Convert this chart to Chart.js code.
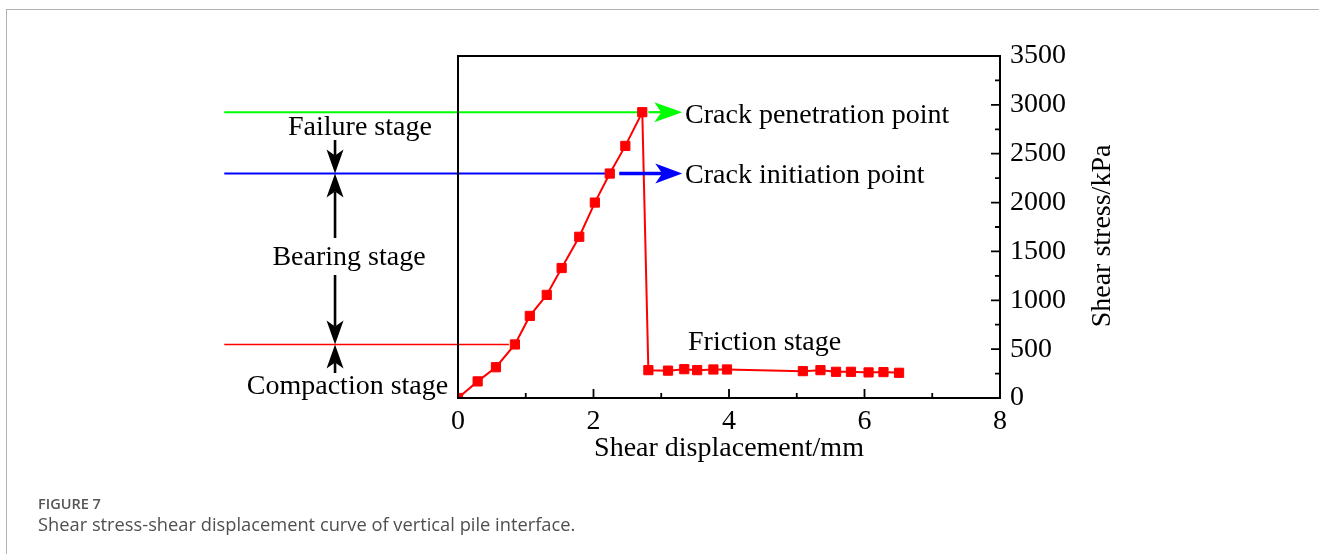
<!DOCTYPE html>
<html>
<head>
<meta charset="utf-8">
<script src="https://cdn.jsdelivr.net/npm/chart.js@4.4.0/dist/chart.umd.min.js"></script>
<style>
  html, body { margin: 0; padding: 0; background: #fff; }
  #wrap { position: relative; width: 1319px; height: 554px; overflow: hidden; }
  #frame { position: absolute; left: 6px; top: 9px; right: -4px; bottom: -4px;
           border-top: 1.5px solid #b2b2b2; border-left: 1.5px solid #b2b2b2; }
  #c { position: absolute; left: 0; top: 0; }
  .cap { position: absolute; left: 38px; font-family: "Open Sans", sans-serif; color: #555; line-height: 1; white-space: nowrap; }
  #figno { top: 497px; font-size: 14.5px; font-weight: 600; }
  #figtxt { top: 515px; font-size: 18.3px; color: #4f4f4f; }
</style>
</head>
<body>
<div id="wrap">
  <div id="frame"></div>
  <canvas id="c" width="1319" height="554"></canvas>
  <div class="cap" id="figno">FIGURE 7</div>
  <div class="cap" id="figtxt">Shear stress-shear displacement curve of vertical pile interface.</div>
</div>
<script>
// Shear test record of the vertical pile interface
const displacement = [0, 0.29, 0.56, 0.84, 1.06, 1.31, 1.53, 1.79, 2.02, 2.24, 2.47, 2.72,
                      2.81, 3.10, 3.34, 3.53, 3.77, 3.97, 5.09, 5.35, 5.58, 5.80, 6.06, 6.28, 6.51];
const shearStress  = [0, 170, 315, 548, 840, 1055, 1330, 1650, 2000, 2297, 2580, 2925,
                      285, 280, 295, 285, 292, 292, 275, 285, 268, 268, 262, 265, 258];
const xTicks = [0, 2, 4, 6, 8];
const yTicks = [0, 500, 1000, 1500, 2000, 2500, 3000, 3500];
const xTitle = 'Shear displacement/mm';
const yTitle = 'Shear stress/kPa';
const stageNames = ['Failure stage', 'Bearing stage', 'Compaction stage', 'Friction stage'];
const pointNames = ['Crack penetration point', 'Crack initiation point'];

// key points on the curve
const PEAK = 11;        // crack penetration
const INIT = 9;         // crack initiation
const COMPACT_END = 3;  // end of compaction

const SERIF = '"Liberation Serif", "Times New Roman", serif';
const RED = '#ff0000', GREEN = '#00ff00', BLUE = '#0000ff';

// annotation layout, in axis units
const guideStartX = -3.45;
const arrowTipX = 3.31;
const stageArrowX = -1.815;

function arrowHead(ctx, tx, ty, dx, dy, len, half, notch, color) {
  const px = -dy, py = dx;
  const bx = tx - dx * len, by = ty - dy * len;
  ctx.beginPath();
  ctx.moveTo(tx, ty);
  ctx.lineTo(bx + px * half, by + py * half);
  ctx.lineTo(tx - dx * (len - notch), ty - dy * (len - notch));
  ctx.lineTo(bx - px * half, by - py * half);
  ctx.closePath();
  ctx.fillStyle = color;
  ctx.fill();
}

function arrow(ctx, x0, y0, x1, y1, color, width, len, half, notch) {
  const L = Math.hypot(x1 - x0, y1 - y0);
  const dx = (x1 - x0) / L, dy = (y1 - y0) / L;
  ctx.beginPath();
  ctx.moveTo(x0, y0);
  ctx.lineTo(x1 - dx * (len - notch), y1 - dy * (len - notch));
  ctx.strokeStyle = color;
  ctx.lineWidth = width;
  ctx.stroke();
  arrowHead(ctx, x1, y1, dx, dy, len, half, notch, color);
}

function hline(ctx, x0, x1, y, color, width) {
  ctx.beginPath();
  ctx.moveTo(x0, y);
  ctx.lineTo(x1, y);
  ctx.strokeStyle = color;
  ctx.lineWidth = width;
  ctx.stroke();
}

const annotations = {
  id: 'stageAnnotations',
  beforeDatasetsDraw(chart) {
    const { ctx, scales: { x, y } } = chart;
    ctx.save();
    ctx.lineCap = 'butt';
    const gx = x.getPixelForValue(guideStartX);
    // guide lines from the stage column to the key points
    hline(ctx, gx, x.getPixelForValue(displacement[PEAK]), y.getPixelForValue(shearStress[PEAK]), GREEN, 2);
    hline(ctx, gx, x.getPixelForValue(displacement[INIT]), y.getPixelForValue(shearStress[INIT]), BLUE, 2);
    hline(ctx, gx, x.getPixelForValue(displacement[COMPACT_END]) - 6, y.getPixelForValue(shearStress[COMPACT_END]), RED, 1.6);
    ctx.restore();
  },
  afterDraw(chart) {
    const { ctx, chartArea: a, scales: { x, y } } = chart;
    ctx.save();

    // pointer arrows to the crack labels
    const tipPx = x.getPixelForValue(arrowTipX);
    const yPeak = y.getPixelForValue(shearStress[PEAK]);
    const yInit = y.getPixelForValue(shearStress[INIT]);
    const yComp = y.getPixelForValue(shearStress[COMPACT_END]);
    arrow(ctx, x.getPixelForValue(displacement[PEAK] + 0.09), yPeak, tipPx, yPeak, GREEN, 2.2, 28, 10, 7);
    arrow(ctx, x.getPixelForValue(displacement[INIT] + 0.14), yInit, tipPx, yInit, BLUE, 3.4, 27, 10, 7);

    // stage boundary arrows
    const sx = x.getPixelForValue(stageArrowX);
    arrow(ctx, sx, y.getPixelForValue(2640), sx, yInit, '#000', 2.6, 24, 8.5, 6);
    arrow(ctx, sx, y.getPixelForValue(1637), sx, yInit, '#000', 2.6, 24, 8.5, 6);
    arrow(ctx, sx, y.getPixelForValue(1259), sx, yComp, '#000', 2.6, 24, 8.5, 6);
    arrow(ctx, sx, y.getPixelForValue(256), sx, yComp, '#000', 2.6, 24, 8.5, 6);

    // plot frame
    ctx.strokeStyle = '#000';
    ctx.lineWidth = 2;
    ctx.strokeRect(a.left, a.top, a.right - a.left, a.bottom - a.top);

    // inward ticks: majors at labelled values, minors halfway
    ctx.lineWidth = 1.8;
    ctx.beginPath();
    for (let v = 0; v <= 8; v += 1) {
      const px = x.getPixelForValue(v);
      const len = v % 2 === 0 ? 9 : 5;
      ctx.moveTo(px, a.bottom);
      ctx.lineTo(px, a.bottom - len);
    }
    for (let v = 0; v <= 3500; v += 250) {
      const py = y.getPixelForValue(v);
      const len = v % 500 === 0 ? 9 : 5;
      ctx.moveTo(a.right, py);
      ctx.lineTo(a.right - len, py);
    }
    ctx.stroke();

    // text labels
    ctx.fillStyle = '#000';
    ctx.font = '28px ' + SERIF;
    ctx.textBaseline = 'alphabetic';
    ctx.textAlign = 'left';
    ctx.fillText(pointNames[0], x.getPixelForValue(3.351), y.getPixelForValue(2814));
    ctx.fillText(pointNames[1], x.getPixelForValue(3.351), y.getPixelForValue(2200));
    ctx.fillText(stageNames[3], x.getPixelForValue(3.395), y.getPixelForValue(491));
    ctx.textAlign = 'center';
    ctx.fillText(stageNames[0], x.getPixelForValue(-1.447), y.getPixelForValue(2692));
    ctx.fillText(stageNames[1], x.getPixelForValue(-1.609), y.getPixelForValue(1361));
    ctx.fillText(stageNames[2], x.getPixelForValue(-1.631), y.getPixelForValue(41));

    // vertical axis title, reading upward
    ctx.translate(a.right + 103, y.getPixelForValue(1658));
    ctx.rotate(-Math.PI / 2);
    ctx.textBaseline = 'middle';
    ctx.fillText(yTitle, 0, 0);
    ctx.restore();
  }
};

new Chart(document.getElementById('c'), {
  type: 'line',
  data: {
    datasets: [{
      data: displacement.map((d, i) => ({ x: d, y: shearStress[i] })),
      borderColor: RED,
      backgroundColor: RED,
      borderWidth: 2,
      pointStyle: 'rect',
      pointRadius: 6.5,
      pointBorderWidth: 1,
      pointBackgroundColor: RED,
      pointBorderColor: RED,
      tension: 0,
      fill: false
    }]
  },
  options: {
    responsive: false,
    animation: false,
    events: [],
    layout: { padding: { left: 458, top: 56, right: 0, bottom: 0 } },
    plugins: { legend: { display: false }, tooltip: { enabled: false } },
    scales: {
      x: {
        type: 'linear', min: 0, max: 8, position: 'bottom',
        afterFit: s => { s.height = 156; },
        afterBuildTicks: s => { s.ticks = xTicks.map(v => ({ value: v })); },
        grid: { display: false, drawTicks: false },
        border: { display: false },
        ticks: { font: { family: SERIF, size: 28 }, color: '#000', padding: 7, maxRotation: 0, autoSkip: false,
                 callback: v => String(v) },
        title: { display: true, text: xTitle, font: { family: SERIF, size: 28 }, color: '#000', padding: { top: 0, bottom: 89 } }
      },
      y: {
        type: 'linear', min: 0, max: 3500, position: 'right',
        afterFit: s => { s.width = 319; },
        afterBuildTicks: s => { s.ticks = yTicks.map(v => ({ value: v })); },
        grid: { display: false, drawTicks: false },
        border: { display: false },
        ticks: { font: { family: SERIF, size: 28 }, color: '#000', padding: 10, autoSkip: false,
                 callback: v => String(v) },
        title: { display: false }
      }
    }
  },
  plugins: [annotations]
});
</script>
</body>
</html>
